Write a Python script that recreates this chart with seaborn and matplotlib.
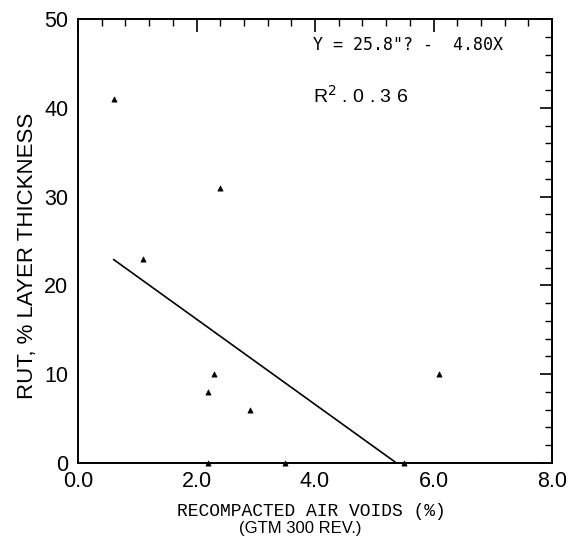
import pandas as pd
import seaborn as sns
import matplotlib.pyplot as plt
from matplotlib.ticker import MultipleLocator

# data
air_voids = [0.6, 1.1, 2.4, 2.3, 2.2, 2.9, 6.1, 2.2, 3.5, 5.5]
rut = [41, 23, 31, 10, 8, 6, 10, 0, 0, 0]

# regression line as printed: Y = 25.8 - 4.80X
fit_x = [0.6, 5.38]
fit_y = [25.8 - 4.80 * v for v in fit_x]

x_ticks = [0, 2, 4, 6, 8]
x_labels = ['0.0', '2.0', '4.0', '6.0', '8.0']
y_ticks = [0, 10, 20, 30, 40, 50]
y_labels = ['0', '10', '20', '30', '40', '50']

df = pd.DataFrame({'voids': air_voids, 'rut': rut})
line_df = pd.DataFrame({'voids': fit_x, 'rut': fit_y})

sns.set_style('white')
plt.rcParams['font.family'] = ['Liberation Sans', 'DejaVu Sans']
plt.rcParams['text.color'] = 'black'
plt.rcParams['axes.labelcolor'] = 'black'

fig = plt.figure(figsize=(5.69, 5.36), dpi=100)
ax = fig.add_axes([78 / 569, 1 - 463 / 536, 474 / 569, 444 / 536])

sns.scatterplot(data=df, x='voids', y='rut', marker='^', s=14, color='black',
                edgecolor='black', linewidth=0.5, ax=ax, clip_on=False, zorder=3)
sns.lineplot(data=line_df, x='voids', y='rut', color='black', linewidth=1.2, ax=ax)

ax.set_xlim(0, 8)
ax.set_ylim(0, 50)
ax.set_xticks(x_ticks)
ax.set_xticklabels(x_labels)
ax.set_yticks(y_ticks)
ax.set_yticklabels(y_labels)
ax.xaxis.set_minor_locator(MultipleLocator(0.4))
ax.yaxis.set_minor_locator(MultipleLocator(2))
ax.tick_params(which='both', direction='in', top=True, right=True, color='black',
               labelcolor='black')
ax.tick_params(which='major', length=9, width=1.2, labelsize=15.5)
ax.tick_params(axis='x', which='major', pad=6)
ax.tick_params(axis='y', which='major', pad=7)
ax.tick_params(which='minor', length=5, width=1.0)
for s in ax.spines.values():
    s.set_color('black')
    s.set_linewidth(1.4)

ax.set_xlabel('')
ax.set_ylabel('')
fig.text(27.5 / 569, 1 - 256 / 536, 'RUT, % LAYER THICKNESS', rotation=90,
         ha='center', va='center', fontsize=16)
fig.text(311 / 569, 1 - 511 / 536, 'RECOMPACTED AIR VOIDS (%)', ha='center',
         va='center', fontsize=13, family='Liberation Mono')
fig.text(300 / 569, 1 - 528 / 536, '(GTM 300 REV.)', ha='center', va='center',
         fontsize=12)

ax.text(3.97, 47.1, 'Y = 25.8"? -  4.80X', fontsize=12, family='DejaVu Sans Mono',
        va='center')
ax.text(3.97, 41.4, 'R$^2$ . 0 . 3 6', fontsize=14, va='center')

fig.savefig('out.png', dpi=100)
